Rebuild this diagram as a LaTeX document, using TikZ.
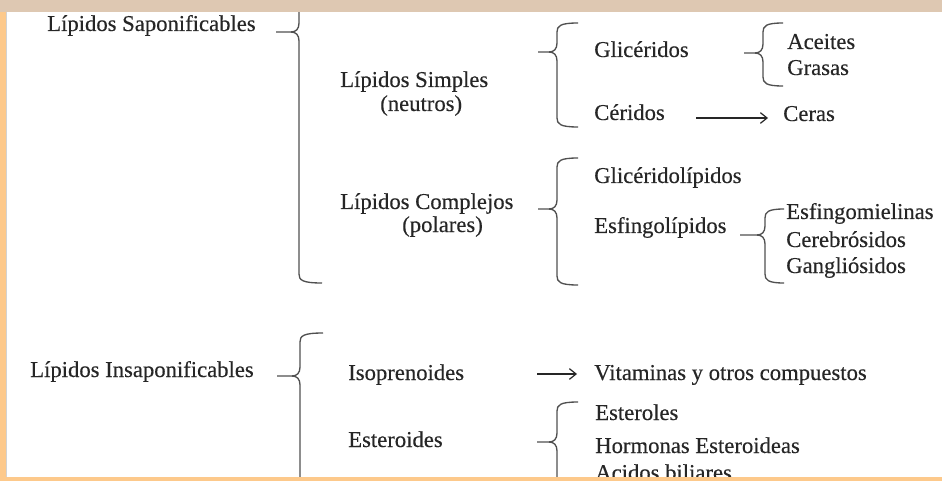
\documentclass[tikz,border=0pt]{standalone}
\usepackage{fontspec}
\setmainfont{Liberation Serif}[FakeBold=0.3]
\usetikzlibrary{arrows.meta}
\definecolor{topband}{HTML}{DEC8B2}
\definecolor{orband}{HTML}{FDC98B}
\definecolor{ink}{HTML}{262626}
\definecolor{bracec}{HTML}{505050}
% #1 X of vertical, #2 top y, #3 tip y, #4 bottom y, #5 tip depth, #6 hook length
\newcommand{\lbr}[6]{%
  \draw[brc] ({#1+#6},#2) .. controls ({#1+3},#2) and (#1,{#2+3}) .. (#1,{#2+9})
    -- (#1,{#3-9}) .. controls (#1,{#3-3}) and ({#1-3},#3) .. ({#1-8},#3) -- ({#1-#5},#3);
  \draw[brc] ({#1-8},#3) .. controls ({#1-3},#3) and (#1,{#3+3}) .. (#1,{#3+9})
    -- (#1,{#4-9}) .. controls (#1,{#4-3}) and ({#1+3},#4) .. ({#1+#6},#4);
}
\begin{document}
\begin{tikzpicture}[x=0.75pt,y=-0.75pt,
  txt/.style={anchor=base west,inner sep=0pt,text=ink,font=\fontsize{17}{20}\selectfont},
  brc/.style={draw=bracec,line width=1pt},
  arr/.style={draw=ink,line width=0.9pt,-{Straight Barb[length=5pt,width=8pt]}}]
\useasboundingbox (0,0) rectangle (942,481);
\fill[white] (0,0) rectangle (942,481);
\begin{scope}
\clip (7,12) rectangle (942,477);
% texts
\node[txt] (sap) at (47,31) {Lípidos Saponificables};
\node[txt] (simp) at (340,87) {Lípidos Simples};
\node[txt] (neut) at (380,111) {(neutros)};
\node[txt] (glic) at (594,57) {Glicéridos};
\node[txt] (cerid) at (594,120) {Céridos};
\node[txt] (ceras) at (783,121) {Ceras};
\node[txt] (acei) at (787,49) {Aceites};
\node[txt] (gras) at (787,75) {Grasas};
\node[txt] (compl) at (340,209) {Lípidos Complejos};
\node[txt] (polar) at (402,232) {(polares)};
\node[txt] (glicl) at (594,183) {Glicéridolípidos};
\node[txt] (esfl) at (594,233) {Esfingolípidos};
\node[txt] (esfm) at (786,219) {Esfingomielinas};
\node[txt] (cereb) at (786,247) {Cerebrósidos};
\node[txt] (gangl) at (786,273) {Gangliósidos};
\node[txt] (insap) at (30,377) {Lípidos Insaponificables};
\node[txt] (isop) at (348,380) {Isoprenoides};
\node[txt] (vit) at (594,380) {Vitaminas y otros compuestos};
\node[txt] (ester) at (348,447) {Esteroides};
\node[txt] (esterol) at (595,420) {Esteroles};
\node[txt] (horm) at (595,453) {Hormonas Esteroideas};
\node[txt] (acid) at (595,480) {Acidos biliares};
% braces
\lbr{299}{-20}{32}{283}{23}{23}
\lbr{557}{23}{52}{127}{19}{21}
\lbr{763}{23}{53}{86}{19}{20}
\lbr{557}{158}{209}{285}{19}{21}
\lbr{765}{209}{235}{283}{25}{19}
\lbr{300}{333}{376}{540}{23}{23}
\lbr{557}{402}{442}{540}{20}{21}
% arrows
\coordinate (a1s) at (696,118);
\coordinate (a1e) at (768,118);
\draw[arr] (a1s) -- (a1e);
\coordinate (a2s) at (537,374);
\coordinate (a2e) at (577,374);
\draw[arr] (a2s) -- (a2e);
\end{scope}
% frame bands
\fill[topband] (0,0) rectangle (942,12);
\fill[orband] (0,12) rectangle (6,481);
\draw[gray!35,line width=0.6pt] (6.6,12) -- (6.6,477);
\fill[orband] (0,477) rectangle (942,481);
\end{tikzpicture}
\end{document}
